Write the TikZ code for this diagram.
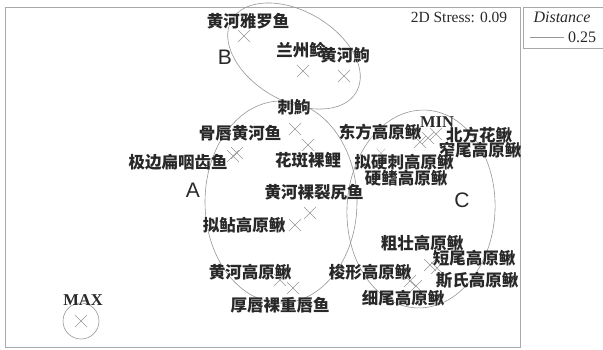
\documentclass[tikz,border=0pt]{standalone}
\usepackage{fontspec}
\setmainfont{Liberation Serif}
\setsansfont{Liberation Sans}
\newfontfamily\cjk{Noto Sans CJK SC}
\usetikzlibrary{shapes.misc}
\definecolor{linegray}{RGB}{150,150,150}
\definecolor{framegray}{RGB}{170,170,170}
\definecolor{txt}{RGB}{40,40,40}
\tikzset{
  xmark/.style={draw=linegray, cross out, minimum size=11pt, inner sep=0pt, line width=0.6pt},
  lab/.style={font=\cjk\bfseries\fontsize{16.5}{16.5}\selectfont, text=txt, inner sep=0pt},
  latinlab/.style={font=\bfseries\fontsize{16.5}{16.5}\selectfont, text=txt, inner sep=0pt},
  grouplab/.style={font=\sffamily\fontsize{21}{21}\selectfont, text=txt, inner sep=0pt},
  grp/.style={draw=linegray, line width=0.6pt},
}
\begin{document}
\begin{tikzpicture}[x=1pt,y=-1pt]
\useasboundingbox (0,0) rectangle (603,349);
% frames
\node[draw=framegray, line width=0.8pt, minimum width=515pt, minimum height=340pt, inner sep=0pt] (frame) at (262.5,177) {};
\draw[framegray, line width=0.8pt] (603,7) -- (523,7) -- (523,48) -- (603,48);
\node[font=\fontsize{15.5}{15.5}\selectfont, text=txt, inner sep=0pt] (stress) at (459,17) {2D Stress: 0.09};
\node[font=\itshape\fontsize{16}{16}\selectfont, text=txt, inner sep=0pt] (dist) at (562,17) {Distance};
\coordinate (l1) at (530,37);
\coordinate (l2) at (564,37);
\draw[linegray, line width=0.6pt] (l1) -- (l2);
\node[font=\fontsize{16}{16}\selectfont, text=txt, inner sep=0pt, anchor=west] (val) at (568,37) {0.25};
% group ellipses
\draw[grp, shift={(294,56)}, rotate=-30] (0,0) ellipse [x radius=72pt, y radius=45pt];
\draw[grp] (281,202) ellipse [x radius=76pt, y radius=101pt];
\draw[grp, shift={(421,209)}, rotate=-3] (0,0) ellipse [x radius=74pt, y radius=99pt];
\draw[grp] (81,321) circle [radius=18pt];
% group letters
\node[grouplab] (gA) at (193,190) {A};
\node[grouplab] (gB) at (225,57) {B};
\node[grouplab] (gC) at (462,200) {C};
% crosses
\node[xmark] (x1) at (244,36) {};
\node[xmark] (x2) at (303,71) {};
\node[xmark] (x3) at (344,76) {};
\node[xmark] (x4) at (295,129) {};
\node[xmark] (x5) at (308,145) {};
\node[xmark] (x6) at (233,156) {};
\node[xmark] (x7) at (237,153) {};
\node[xmark] (x8) at (310,213) {};
\node[xmark] (x9) at (295,225) {};
\node[xmark] (x10) at (280,280) {};
\node[xmark] (x11) at (293,288) {};
\node[xmark] (x12) at (420,142) {};
\node[xmark] (x13) at (428,138) {};
\node[xmark] (x14) at (436,134) {};
\node[xmark, draw=linegray!60, minimum size=8pt] (x15) at (381,153) {};
\node[xmark] (x16) at (430,265) {};
\node[xmark] (x17) at (437,268) {};
\node[xmark] (x18) at (410,281) {};
\node[xmark] (x19) at (416,286) {};
\node[xmark] (x20) at (81,321) {};
% labels
\node[lab] (t1) at (248,21) {黄河雅罗鱼};
\node[lab] (t2) at (301,50) {兰州鲶};
\node[lab] (t3) at (345,55) {黄河鮈};
\node[lab] (t4) at (294,107) {刺鮈};
\node[lab] (t5) at (240,133) {骨唇黄河鱼};
\node[lab] (t6) at (380,132) {东方高原鳅};
\node[latinlab] (t7) at (437,122) {MIN};
\node[lab] (t8) at (479,135) {北方花鳅};
\node[lab] (t9) at (480,150) {窄尾高原鳅};
\node[lab] (t10) at (178,162) {极边扁咽齿鱼};
\node[lab] (t11) at (308,160) {花斑裸鲤};
\node[lab] (t12) at (404,162) {拟硬刺高原鳅};
\node[lab] (t13) at (406,178) {硬鳍高原鳅};
\node[lab] (t14) at (314,192) {黄河裸裂尻鱼};
\node[lab] (t15) at (244,225) {拟鲇高原鳅};
\node[lab] (t16) at (422,243) {粗壮高原鳅};
\node[lab] (t17) at (474,258) {短尾高原鳅};
\node[lab] (t18) at (250,272) {黄河高原鳅};
\node[lab] (t19) at (370,272) {梭形高原鳅};
\node[lab] (t20) at (477,280) {斯氏高原鳅};
\node[lab] (t21) at (403,298) {细尾高原鳅};
\node[lab] (t22) at (280,305) {厚唇裸重唇鱼};
\node[latinlab] (t23) at (83,300) {MAX};
\end{tikzpicture}
\end{document}
